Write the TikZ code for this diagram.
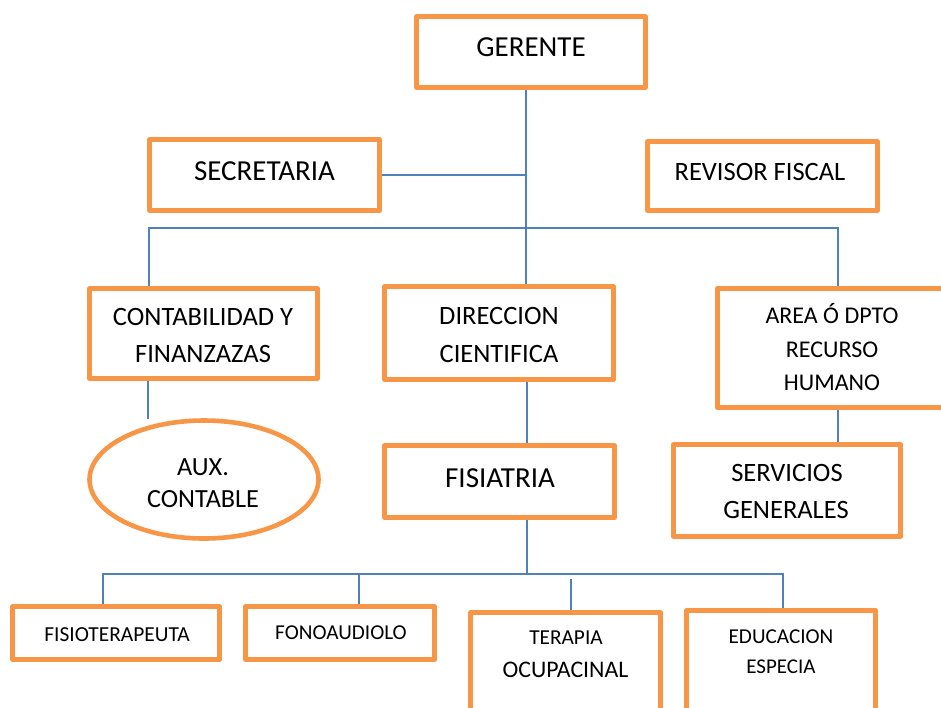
\documentclass[tikz,border=0pt]{standalone}
\usepackage{fontspec}
\setmainfont{Carlito}
\usetikzlibrary{shapes.geometric}
\definecolor{boxorange}{HTML}{F79646}
\definecolor{linkblue}{HTML}{4F81BD}
\begin{document}
\begin{tikzpicture}[x=1pt,y=-1pt,
  obox/.style={draw=boxorange, line width=4.6pt, line join=round, rectangle, inner sep=0pt, fill=white},
  oell/.style={draw=boxorange, line width=4.6pt, ellipse, inner sep=0pt, fill=white},
  conn/.style={draw=linkblue, line width=1.8pt},
  lbl/.style={anchor=base, inner sep=0pt, text=black},
]
\useasboundingbox (0,0) rectangle (941,707);
\clip (0,0) rectangle (941,707);
\fill[white] (0,0) rectangle (941,707);

% boxes
\node[obox, minimum width=229pt, minimum height=71pt] (gerente) at (531,52) {};
\node[obox, minimum width=230pt, minimum height=71pt] (secretaria) at (264.5,175) {};
\node[obox, minimum width=230pt, minimum height=69pt] (revisor) at (762.5,176) {};
\node[obox, minimum width=228pt, minimum height=90pt] (contab) at (203.5,333.5) {};
\node[obox, minimum width=229pt, minimum height=93pt] (direccion) at (499,333) {};
\node[obox, minimum width=232.5pt, minimum height=119pt] (area) at (833.75,348) {};
\node[oell, minimum width=229pt, minimum height=118pt] (aux) at (204,479.5) {};
\node[obox, minimum width=230pt, minimum height=72pt] (fisiatria) at (499.5,481.5) {};
\node[obox, minimum width=227pt, minimum height=92pt] (servicios) at (787,490.5) {};
\node[obox, minimum width=207pt, minimum height=53pt] (fisioter) at (116,633) {};
\node[obox, minimum width=189pt, minimum height=53pt] (fono) at (340,633) {};
\node[obox, minimum width=190pt, minimum height=112.5pt] (terapia) at (565.5,668.75) {};
\node[obox, minimum width=189pt, minimum height=114.5pt] (educacion) at (781,667.75) {};

% junction coordinates
\coordinate (trunk) at (526,0);
\coordinate (busL) at (149,228);
\coordinate (busR) at (838,228);
\coordinate (auxT) at (148,419);
\coordinate (busB) at (527,574);
\coordinate (fisL) at (103,574);
\coordinate (fonX) at (359,574);
\coordinate (eduR) at (783,574);
\coordinate (terT) at (571,579);

% connectors
\draw[conn] (gerente.south -| trunk) -- (direccion.north -| trunk);
\draw[conn] (secretaria.east) -- (secretaria.east -| trunk);
\draw[conn] (contab.north -| busL) -- (busL) -- (busR) -- (area.north -| busR);
\draw[conn] (contab.south -| auxT) -- (auxT);
\draw[conn] (direccion.south -| busB) -- (fisiatria.north -| busB);
\draw[conn] (area.south -| busR) -- (servicios.north -| busR);
\draw[conn] (fisiatria.south -| busB) -- (busB);
\draw[conn] (fisioter.north -| fisL) -- (fisL) -- (eduR) -- (educacion.north -| eduR);
\draw[conn] (fono.north -| fonX) -- (fonX);
\draw[conn] (terT) -- (terapia.north -| terT);

% labels
\node[lbl, font=\fontsize{29}{35}\selectfont] (tGer) at (531,56) {GERENTE};
\node[lbl, font=\fontsize{29}{35}\selectfont] (tSec) at (264.5,180) {SECRETARIA};
\node[lbl, font=\fontsize{26.5}{32}\selectfont] (tRev) at (760,180) {REVISOR FISCAL};
\node[lbl, font=\fontsize{26.5}{32}\selectfont] (tCon1) at (203,325) {CONTABILIDAD Y};
\node[lbl, font=\fontsize{26.5}{32}\selectfont] (tCon2) at (203,362.7) {FINANZAZAS};
\node[lbl, font=\fontsize{26.5}{32}\selectfont] (tDir1) at (499,324) {DIRECCION};
\node[lbl, font=\fontsize{26.5}{32}\selectfont] (tDir2) at (499,362) {CIENTIFICA};
\node[lbl, font=\fontsize{24}{29}\selectfont] (tAre1) at (832,323.3) {AREA Ó DPTO};
\node[lbl, font=\fontsize{24}{29}\selectfont] (tAre2) at (832,357.3) {RECURSO};
\node[lbl, font=\fontsize{24}{29}\selectfont] (tAre3) at (832,390.7) {HUMANO};
\node[lbl, font=\fontsize{29}{35}\selectfont] (tFis) at (500,487) {FISIATRIA};
\node[lbl, font=\fontsize{26.5}{32}\selectfont] (tSer1) at (787,481.7) {SERVICIOS};
\node[lbl, font=\fontsize{26.5}{32}\selectfont] (tSer2) at (786,518.3) {GENERALES};
\node[lbl, font=\fontsize{26.2}{32}\selectfont] (tAux1) at (203,475.7) {AUX.};
\node[lbl, font=\fontsize{26.2}{32}\selectfont] (tAux2) at (203,507.3) {CONTABLE};
\node[lbl, font=\fontsize{21.4}{26}\selectfont] (tFst) at (117,641.7) {FISIOTERAPEUTA};
\node[lbl, font=\fontsize{21.2}{26}\selectfont] (tFon) at (341,639) {FONOAUDIOLO};
\node[lbl, font=\fontsize{21.3}{26}\selectfont] (tTer1) at (566,644) {TERAPIA};
\node[lbl, font=\fontsize{23.8}{29}\selectfont] (tTer2) at (565.5,677.3) {OCUPACINAL};
\node[lbl, font=\fontsize{21.2}{26}\selectfont] (tEdu1) at (781,643.3) {EDUCACION};
\node[lbl, font=\fontsize{21}{26}\selectfont] (tEdu2) at (781,673.3) {ESPECIA};
\end{tikzpicture}
\end{document}
